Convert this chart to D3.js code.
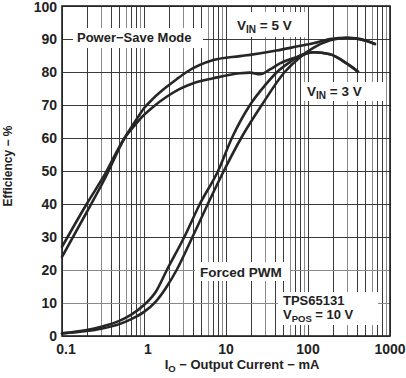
<!DOCTYPE html>
<html><head><meta charset="utf-8">
<script src="https://cdn.jsdelivr.net/npm/d3@7"></script>
<style>
body{margin:0;background:#fff;}
text{font-family:"Liberation Sans",Arial,sans-serif;font-weight:bold;fill:#222;}
</style></head>
<body><svg id="c" width="406" height="378"></svg>
<script>
// ---- data ----
const xTicks = [0.1, 1, 10, 100, 1000];
const xTickLabels = ["0.1", "1", "10", "100", "1000"];
const yTicks = [0, 10, 20, 30, 40, 50, 60, 70, 80, 90, 100];

// Power-save mode, VIN = 5 V  [mA, %]
const ps5I = [0.1, 0.2, 0.33, 0.58, 0.78, 1.0, 1.3, 1.89, 2.5, 3.32, 7, 14.8, 19.6, 41.5, 72.8, 116, 186, 300, 390, 500, 656];
const ps5E = [24, 37.5, 47.5, 60, 65, 69, 72, 75.5, 77.8, 80, 83.6, 84.8, 85.2, 86.5, 87.7, 88.7, 90, 90.4, 90.2, 89.6, 88.5];
// Power-save mode, VIN = 3 V
const ps3I = [0.1, 0.2, 0.33, 0.58, 0.78, 1.0, 1.3, 1.89, 2.7, 3.99, 7, 14.8, 19.6, 26, 34.4, 45.6, 80, 116, 186, 296, 407];
const ps3E = [27, 40, 48.8, 60, 64, 67, 69.5, 72.5, 74.8, 76.6, 78.1, 79.6, 79.8, 79.3, 80.8, 82.6, 84.8, 86, 85.4, 82.6, 80.1];
// Forced PWM, VIN = 3 V
const pwm3I = [0.1, 0.2, 0.3, 0.5, 0.7, 1.0, 1.4, 1.9, 3.1, 4.8, 8, 11.8, 19.6, 30, 42, 60, 80, 116, 186, 296, 407];
const pwm3E = [0.8, 1.8, 2.8, 4.6, 6.5, 9.4, 13.5, 20, 30, 40, 50, 60, 70, 76, 80, 83, 85, 86, 85.4, 82.6, 80.1];
// Forced PWM, VIN = 5 V
const pwm5I = [0.1, 0.2, 0.3, 0.5, 0.7, 1.0, 1.4, 1.9, 2.5, 3.9, 6.0, 9.4, 15.3, 27.3, 52, 80, 116, 186, 300, 450, 656];
const pwm5E = [0.8, 1.5, 2.2, 3.6, 5.1, 7.3, 10.5, 15, 20, 30, 40, 50, 60, 70, 80, 84.5, 87.3, 89.6, 90.4, 89.8, 88.5];

const series = [
  {i: ps5I, e: ps5E}, {i: ps3I, e: ps3E}, {i: pwm3I, e: pwm3E}, {i: pwm5I, e: pwm5E}
];

// ---- layout ----
const L = 62, R = 390, T = 6, B = 336;
const svg = d3.select("#c");
const x = d3.scaleLog().domain([0.1, 1000]).range([L, R]);
const y = d3.scaleLinear().domain([0, 100]).range([B, T]);

// grid
const minor = [];
for (let d = 0.1; d < 1000; d *= 10) for (let k = 1; k < 10; k++) minor.push(d * k);
minor.push(1000);
const g = svg.append("g");
g.selectAll("line.v").data(minor).join("line")
  .attr("x1", d => Math.round(x(d)) + 0.5).attr("x2", d => Math.round(x(d)) + 0.5)
  .attr("y1", T).attr("y2", B)
  .attr("stroke", (d, i) => (i % 3 === 2 ? "#8a8a8a" : "#3a3a3a")).attr("stroke-width", 1);
g.selectAll("line.h").data(yTicks).join("line")
  .attr("x1", L).attr("x2", R)
  .attr("y1", d => Math.round(y(d)) + 0.5).attr("y2", d => Math.round(y(d)) + 0.5)
  .attr("stroke", d => (d === 10 || d === 20 ? "#8a8a8a" : "#3a3a3a")).attr("stroke-width", 1);

// white label boxes
const boxes = [
  [73, 28, 130, 20], [233, 12, 72, 25], [303, 82, 80, 19], [195, 262, 95, 19], [278, 292, 100, 33]
];
svg.selectAll("rect.box").data(boxes).join("rect")
  .attr("x", d => d[0]).attr("y", d => d[1]).attr("width", d => d[2]).attr("height", d => d[3])
  .attr("fill", "#fff");

// frame
svg.append("rect").attr("x", L).attr("y", T).attr("width", R - L).attr("height", B - T)
  .attr("fill", "none").attr("stroke", "#222").attr("stroke-width", 1.6);

// curves
const line = d3.line().x(d => x(d[0])).y(d => y(d[1])).curve(d3.curveMonotoneX);
svg.selectAll("path.c").data(series).join("path")
  .attr("d", s => line(s.i.map((v, k) => [v, s.e[k]])))
  .attr("fill", "none").attr("stroke", "#262626").attr("stroke-width", 2.6)
  .attr("stroke-linejoin", "round").attr("stroke-linecap", "round");

// axis labels
svg.selectAll("text.yt").data(yTicks).join("text")
  .attr("x", 57).attr("y", d => Math.max(y(d) + 5, 12)).attr("text-anchor", "end")
  .attr("font-size", 14).text(d => d);
svg.selectAll("text.xt").data(xTicks).join("text")
  .attr("x", (d, i) => x(d) + (i === 0 ? 4 : i === 1 ? 4 : 0)).attr("y", 354).attr("text-anchor", "middle")
  .attr("font-size", 14).text((d, i) => xTickLabels[i]);

const xt = svg.append("text").attr("x", 242).attr("y", 369).attr("text-anchor", "middle").attr("font-size", 12);
xt.append("tspan").attr("font-size", 13).text("I");
xt.append("tspan").attr("font-size", 9.5).attr("dy", 3).text("O");
xt.append("tspan").attr("dy", -3).attr("font-size", 13).text(" \u2212 Output Current \u2212 mA");

svg.append("text").attr("transform", "translate(12,166) rotate(-90)")
  .attr("text-anchor", "middle").attr("font-size", 12).text("Efficiency \u2212 %");

// annotations
svg.append("text").attr("x", 77).attr("y", 42).attr("font-size", 13).text("Power\u2212Save Mode");
const v5 = svg.append("text").attr("x", 237).attr("y", 30).attr("font-size", 13.5);
v5.append("tspan").text("V");
v5.append("tspan").attr("font-size", 10).attr("dy", 3).text("IN");
v5.append("tspan").attr("dy", -3).text(" = 5 V");
const v3 = svg.append("text").attr("x", 307).attr("y", 96).attr("font-size", 13.5);
v3.append("tspan").text("V");
v3.append("tspan").attr("font-size", 10).attr("dy", 3).text("IN");
v3.append("tspan").attr("dy", -3).text(" = 3 V");
svg.append("text").attr("x", 200).attr("y", 277).attr("font-size", 13.5).text("Forced PWM");
svg.append("text").attr("x", 283).attr("y", 305).attr("font-size", 13).text("TPS65131");
const vp = svg.append("text").attr("x", 283).attr("y", 319).attr("font-size", 13);
vp.append("tspan").text("V");
vp.append("tspan").attr("font-size", 9.5).attr("dy", 3).text("POS");
vp.append("tspan").attr("dy", -3).text(" = 10 V");
</script></body></html>
